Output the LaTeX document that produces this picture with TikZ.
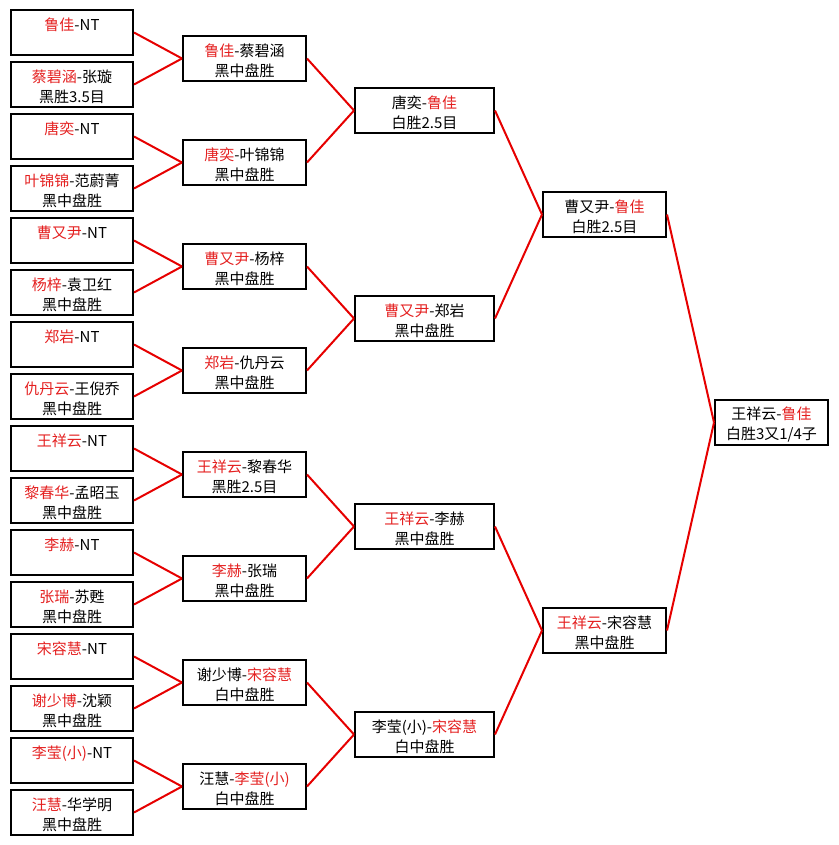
\documentclass[tikz,border=0pt]{standalone}
\usepackage{fontspec}
\setmainfont{Noto Sans CJK SC}
\usepackage{tikz}
\definecolor{winred}{RGB}{228,32,32}
\definecolor{linkred}{RGB}{230,0,0}
\newcommand{\wn}[1]{\textcolor{winred}{#1}}
\newcommand{\gm}[2]{\rule{0pt}{13.1pt}#1\\\rule[-1.5pt]{0pt}{0pt}#2}

\begin{document}
\begin{tikzpicture}[x=0.75pt,y=-0.75pt,game/.style={draw=black,line width=1.5pt,inner sep=0pt,minimum height=33.75pt,align=center,font=\fontsize{11.25pt}{15pt}\selectfont},gameA/.style={game,minimum width=91.5pt},gameB/.style={game,minimum width=92.25pt},gameC/.style={game,minimum width=104.25pt},gameE/.style={game,minimum width=84.75pt},link/.style={draw=linkred,line width=1.5pt}]
\def\xa{72};
\def\xb{244.5};
\def\xc{424.5};
\def\xd{604.5};
\def\xe{771.5};

\useasboundingbox (0,0) rectangle (838,845);

% first round
\node[gameA] (A1) at (\xa,32.5) {\gm{\wn{鲁佳}-NT}{}};
\node[gameA] (A2) at (\xa,84.5) {\gm{\wn{蔡碧涵}-张璇}{黑胜3.5目}};
\node[gameA] (A3) at (\xa,136.5) {\gm{\wn{唐奕}-NT}{}};
\node[gameA] (A4) at (\xa,188.5) {\gm{\wn{叶锦锦}-范蔚菁}{黑中盘胜}};
\node[gameA] (A5) at (\xa,240.5) {\gm{\wn{曹又尹}-NT}{}};
\node[gameA] (A6) at (\xa,292.5) {\gm{\wn{杨梓}-袁卫红}{黑中盘胜}};
\node[gameA] (A7) at (\xa,344.5) {\gm{\wn{郑岩}-NT}{}};
\node[gameA] (A8) at (\xa,396.5) {\gm{\wn{仇丹云}-王倪乔}{黑中盘胜}};
\node[gameA] (A9) at (\xa,448.5) {\gm{\wn{王祥云}-NT}{}};
\node[gameA] (A10) at (\xa,500.5) {\gm{\wn{黎春华}-孟昭玉}{黑中盘胜}};
\node[gameA] (A11) at (\xa,552.5) {\gm{\wn{李赫}-NT}{}};
\node[gameA] (A12) at (\xa,604.5) {\gm{\wn{张瑞}-苏甦}{黑中盘胜}};
\node[gameA] (A13) at (\xa,656.5) {\gm{\wn{宋容慧}-NT}{}};
\node[gameA] (A14) at (\xa,708.5) {\gm{\wn{谢少博}-沈颖}{黑中盘胜}};
\node[gameA] (A15) at (\xa,760.5) {\gm{\wn{李莹(小)}-NT}{}};
\node[gameA] (A16) at (\xa,812.5) {\gm{\wn{汪慧}-华学明}{黑中盘胜}};

% second round
\node[gameB] (B1) at (\xb,58.5) {\gm{\wn{鲁佳}-蔡碧涵}{黑中盘胜}};
\node[gameB] (B2) at (\xb,162.5) {\gm{\wn{唐奕}-叶锦锦}{黑中盘胜}};
\node[gameB] (B3) at (\xb,266.5) {\gm{\wn{曹又尹}-杨梓}{黑中盘胜}};
\node[gameB] (B4) at (\xb,370.5) {\gm{\wn{郑岩}-仇丹云}{黑中盘胜}};
\node[gameB] (B5) at (\xb,474.5) {\gm{\wn{王祥云}-黎春华}{黑胜2.5目}};
\node[gameB] (B6) at (\xb,578.5) {\gm{\wn{李赫}-张瑞}{黑中盘胜}};
\node[gameB] (B7) at (\xb,682.5) {\gm{谢少博-\wn{宋容慧}}{白中盘胜}};
\node[gameB] (B8) at (\xb,786.5) {\gm{汪慧-\wn{李莹(小)}}{白中盘胜}};

% quarter finals
\node[gameC] (C1) at (\xc,110.5) {\gm{唐奕-\wn{鲁佳}}{白胜2.5目}};
\node[gameC] (C2) at (\xc,318.5) {\gm{\wn{曹又尹}-郑岩}{黑中盘胜}};
\node[gameC] (C3) at (\xc,526.5) {\gm{\wn{王祥云}-李赫}{黑中盘胜}};
\node[gameC] (C4) at (\xc,734.5) {\gm{李莹(小)-\wn{宋容慧}}{白中盘胜}};

% semi finals and final
\node[gameB] (D1) at (\xd,214.5) {\gm{曹又尹-\wn{鲁佳}}{白胜2.5目}};
\node[gameB] (D2) at (\xd,630.5) {\gm{\wn{王祥云}-宋容慧}{黑中盘胜}};
\node[gameE] (E) at (\xe,422.5) {\gm{王祥云-\wn{鲁佳}}{白胜3又1/4子}};

\foreach \p/\q in {A1/B1,A2/B1,A3/B2,A4/B2,A5/B3,A6/B3,A7/B4,A8/B4,A9/B5,A10/B5,A11/B6,A12/B6,A13/B7,A14/B7,A15/B8,A16/B8,B1/C1,B2/C1,B3/C2,B4/C2,B5/C3,B6/C3,B7/C4,B8/C4,C1/D1,C2/D1,C3/D2,C4/D2,D1/E,D2/E}
  \draw[link] (\p.east) -- (\q.west);

\end{tikzpicture}
\end{document}
